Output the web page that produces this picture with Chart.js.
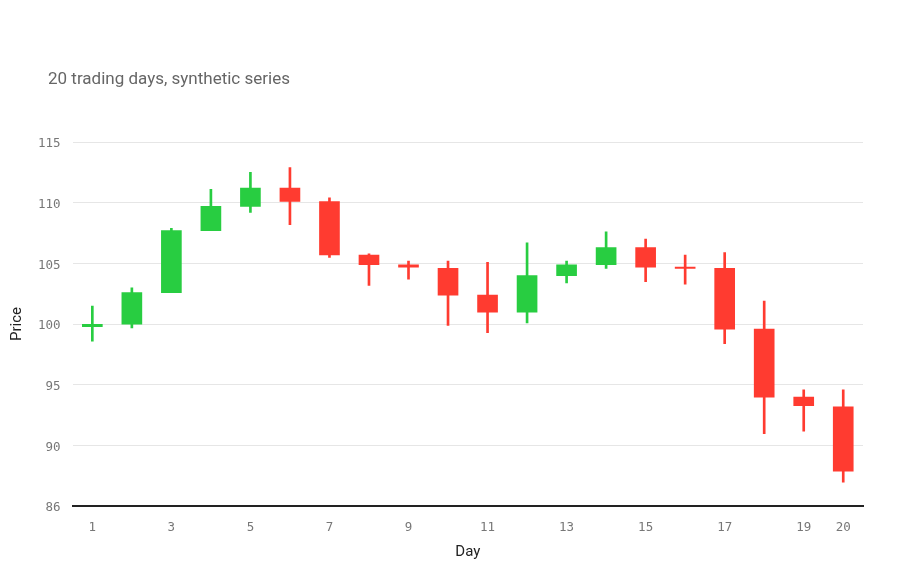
<!DOCTYPE html>
<html>
<head>
<meta charset="utf-8">
<script src="https://cdn.jsdelivr.net/npm/chart.js@4/dist/chart.umd.min.js"></script>
<style>
  html, body { margin: 0; padding: 0; background: #fff; }
  #wrap { position: relative; width: 900px; height: 580px; }
  #sub { position: absolute; left: 48px; top: 68px; font-family: Roboto, sans-serif; font-size: 17px; line-height: 20px; color: #666; white-space: nowrap; }
  canvas { display: block; }
</style>
</head>
<body>
<div id="wrap">
  <div id="sub">20 trading days, synthetic series</div>
  <canvas id="c" width="900" height="580"></canvas>
</div>
<script>
const days   = ['1','2','3','4','5','6','7','8','9','10','11','12','13','14','15','16','17','18','19','20'];
const opens  = [99.8, 100.0, 102.6, 107.7, 109.7, 111.2, 110.1, 105.7, 104.9, 104.6, 102.4, 101.0, 104.0, 104.9, 106.3, 104.7, 104.6, 99.6, 94.0, 93.2];
const highs  = [101.5, 103.0, 107.9, 111.1, 112.5, 112.9, 110.4, 105.8, 105.2, 105.2, 105.1, 106.7, 105.2, 107.6, 107.0, 105.7, 105.9, 101.9, 94.6, 94.6];
const lows   = [98.6, 99.7, 102.6, 107.7, 109.2, 108.2, 105.5, 103.2, 103.7, 99.9, 99.3, 100.1, 103.4, 104.6, 103.5, 103.3, 98.4, 91.0, 91.2, 87.0];
const closes = [100.0, 102.6, 107.7, 109.7, 111.2, 110.1, 105.7, 104.9, 104.7, 102.4, 101.0, 104.0, 104.9, 106.3, 104.7, 104.6, 99.6, 94.0, 93.3, 87.9];
const yTicksMin = 85.04;
const yTicksMax = 115;

const UP = '#28CD41', DOWN = '#FF3B30';
const colors = opens.map((o, i) => closes[i] >= o ? UP : DOWN);

new Chart(document.getElementById('c'), {
  type: 'bar',
  data: {
    labels: days,
    datasets: [
      {
        label: 'Body',
        data: opens.map((o, i) => [o, closes[i]]),
        backgroundColor: colors,
        borderWidth: 0,
        barThickness: 20
      },
      {
        label: 'Wick',
        data: lows.map((l, i) => [l, highs[i]]),
        backgroundColor: colors,
        borderWidth: 0,
        barThickness: 2
      }
    ]
  },
  options: {
    responsive: false,
    animation: false,
    grouped: false,
    layout: { padding: { left: 8, right: 37, top: 142, bottom: 15 } },
    plugins: { legend: { display: false }, tooltip: { enabled: false }, title: { display: false } },
    scales: {
      x: {
        offset: true,
        grid: { display: false, drawTicks: false },
        border: { display: true, color: '#222', width: 2 },
        ticks: {
          autoSkip: false, maxRotation: 0, padding: 14,
          font: { family: '"DejaVu Sans Mono", monospace', size: 12.5 },
          color: '#777',
          callback: function (v, i) { return (i % 2 === 0 || i === days.length - 1) ? this.getLabelForValue(v) : ''; }
        },
        title: { display: true, text: 'Day', color: '#222', font: { family: 'Roboto', size: 15 }, padding: { top: -6, bottom: 4 } }
      },
      y: {
        min: yTicksMin, max: yTicksMax,
        grid: { color: '#e6e6e6', lineWidth: 1, drawTicks: false },
        border: { display: false },
        ticks: {
          stepSize: 5, padding: 12, labelOffset: 2,
          font: { family: '"DejaVu Sans Mono", monospace', size: 12.5 },
          color: '#777',
          callback: v => String(Math.ceil(v))
        },
        title: { display: true, text: 'Price', color: '#222', font: { family: 'Roboto', size: 15 }, padding: { top: 0, bottom: 0 } }
      }
    }
  }
});
</script>
</body>
</html>
